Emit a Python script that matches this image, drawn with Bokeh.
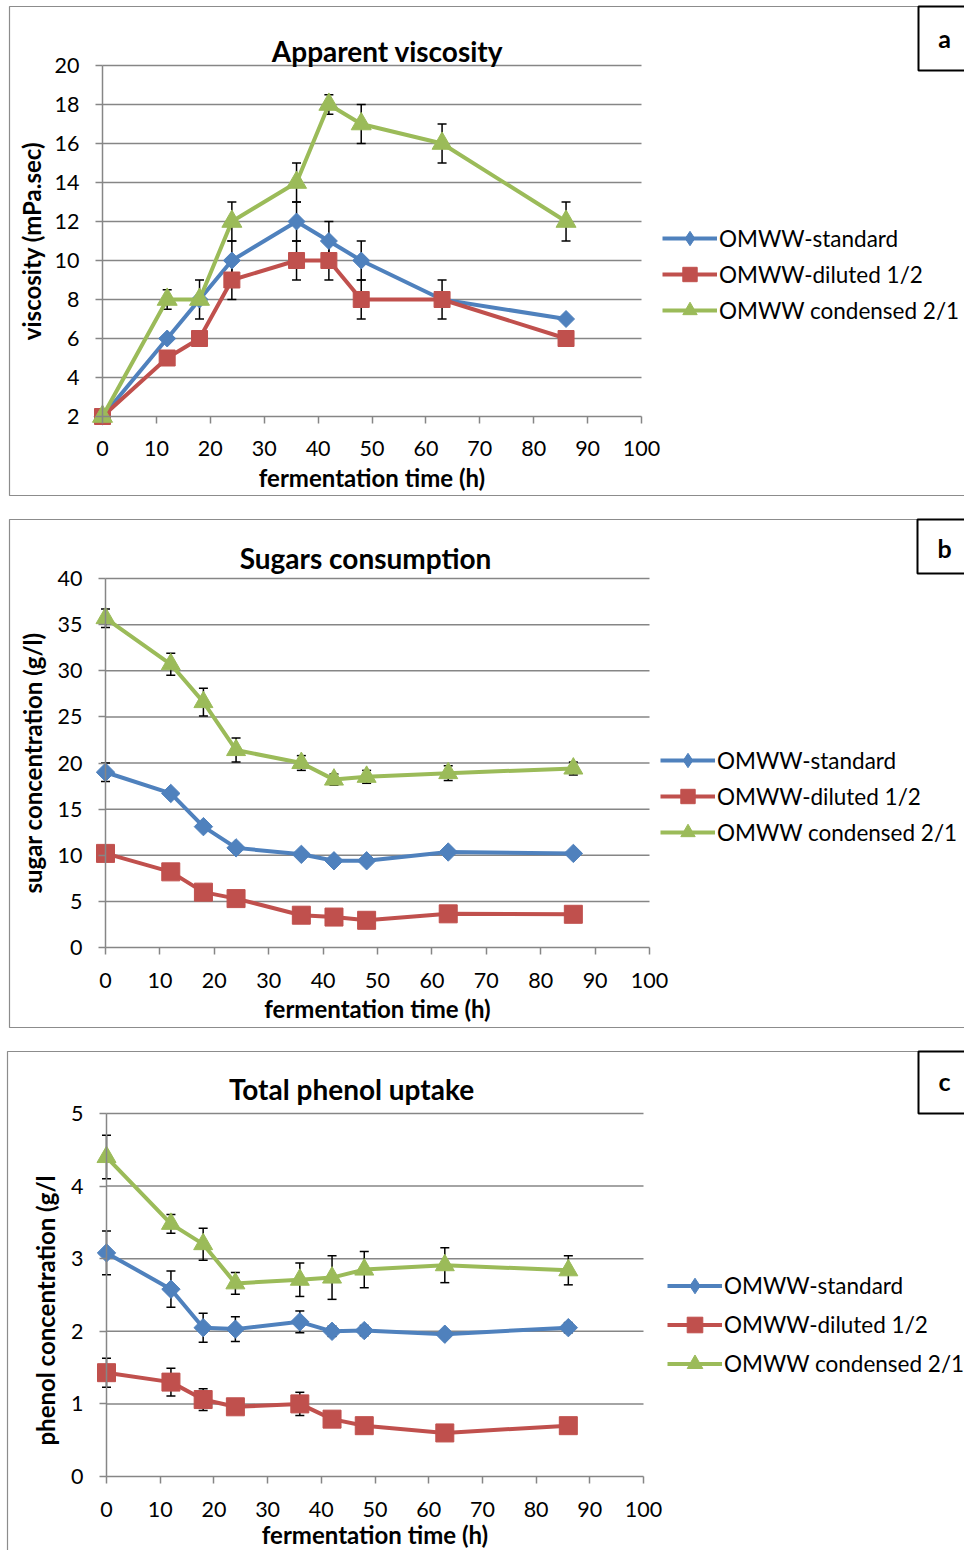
import math
from bokeh.plotting import figure
from bokeh.layouts import column
from bokeh.models import (ColumnDataSource, Whisker, TeeHead, Legend, LegendItem, Label,
                          FixedTicker, Range1d, BoxAnnotation)
from bokeh.embed import file_html
from bokeh.resources import INLINE

# ---------------- data ----------------
time_h = [0, 12, 18, 24, 36, 42, 48, 63, 86]
series_names = ["OMWW-standard", "OMWW-diluted 1/2", "OMWW condensed 2/1"]
x_ticks = [0, 10, 20, 30, 40, 50, 60, 70, 80, 90, 100]

# (a) apparent viscosity (mPa.sec)
visc_ticks = [2, 4, 6, 8, 10, 12, 14, 16, 18, 20]
visc_standard = [2, 6, 8, 10, 12, 11, 10, 8, 7]
visc_diluted = [2, 5, 6, 9, 10, 10, 8, 8, 6]
visc_condensed = [2, 8, 8, 12, 14, 18, 17, 16, 12]
visc_err_standard = [0, 0, 0, 1, 1, 1, 1, 0, 0]
visc_err_diluted = [0, 0, 0, 1, 1, 1, 1, 1, 0]
visc_err_condensed = [0, 0.5, 1, 1, 1, 0.5, 1, 1, 1]

# (b) sugar concentration (g/l)
sugar_ticks = [0, 5, 10, 15, 20, 25, 30, 35, 40]
sugar_standard = [19.0, 16.7, 13.1, 10.8, 10.1, 9.4, 9.4, 10.35, 10.2]
sugar_diluted = [10.2, 8.2, 6.0, 5.3, 3.5, 3.3, 2.95, 3.65, 3.6]
sugar_condensed = [35.7, 30.7, 26.6, 21.4, 20.0, 18.2, 18.5, 18.9, 19.4]
sugar_err_standard = [1.0, 0.3, 0.3, 0.3, 0.3, 0.3, 0.3, 0.3, 0.3]
sugar_err_diluted = [0.3, 0.3, 0.3, 0.3, 0.3, 0.3, 0.3, 0.3, 0.3]
sugar_err_condensed = [1.0, 1.2, 1.5, 1.3, 0.8, 0.6, 0.7, 0.8, 0.7]

# (c) phenol concentration (g/l)
phenol_ticks = [0, 1, 2, 3, 4, 5]
phenol_standard = [3.08, 2.58, 2.05, 2.03, 2.13, 2.0, 2.01, 1.96, 2.05]
phenol_diluted = [1.43, 1.30, 1.06, 0.96, 1.0, 0.79, 0.70, 0.60, 0.70]
phenol_condensed = [4.40, 3.48, 3.20, 2.66, 2.71, 2.74, 2.85, 2.91, 2.84]
phenol_err_standard = [0.3, 0.25, 0.2, 0.17, 0.15, 0.07, 0.07, 0.05, 0.07]
phenol_err_diluted = [0.2, 0.19, 0.15, 0, 0.16, 0, 0, 0, 0]
phenol_err_condensed = [0.3, 0.13, 0.22, 0.15, 0.23, 0.3, 0.25, 0.24, 0.2]

# ---------------- style ----------------
FONT = "Lato"
COLORS = ["#4F81BD", "#C0504D", "#9BBB59"]
MARKERS = ["square", "square", "triangle"]
LEGEND_MARKERS = ["diamond", "square", "triangle"]
ANGLES = [math.pi / 4, 0, 0]
GRID = "#868686"
BORDER = "#8c8c8c"
PAGE_W = 964


def make_panel(c):
    H = c["slot_h"]
    ymin, ymax = c["yticks"][0], c["yticks"][-1]
    sx = 100.0 / (c["ax_right"] - c["ax_left"])
    sy = (ymax - ymin) / float(c["ax_bottom"] - c["ax_top"])

    def dx(px):
        return (px - c["ax_left"]) * sx

    def dy(py):
        return ymin + (c["ax_bottom"] - py) * sy

    # the plot frame fills the whole canvas; everything is placed inside it
    p = figure(width=PAGE_W, height=H, output_backend="svg", toolbar_location=None,
               x_range=Range1d(dx(0), dx(PAGE_W)), y_range=Range1d(dy(H), dy(0)),
               min_border=0, min_border_left=0, min_border_right=0,
               min_border_top=0, min_border_bottom=0)
    p.title.visible = False
    p.outline_line_color = None
    p.background_fill_color = "white"
    p.border_fill_color = "white"
    p.xgrid.visible = False
    p.ygrid.visible = False

    # outer panel border and letter box
    l, t, r, b = c["border"]
    p.add_layout(BoxAnnotation(left=dx(l), right=dx(r), top=dy(t), bottom=dy(b),
                               fill_color=None, fill_alpha=0, line_color=BORDER,
                               line_alpha=1, line_width=1.2, level="underlay"))
    l, t, r, b = c["letter_box"]
    p.add_layout(BoxAnnotation(left=dx(l), right=dx(r), top=dy(t), bottom=dy(b),
                               fill_color="white", fill_alpha=1, line_color="black",
                               line_alpha=1, line_width=2, level="overlay"))
    lx, ly = c["letter_center"]
    p.add_layout(Label(x=lx, y=H - ly, x_units="screen", y_units="screen",
                       text=c["letter"], text_font=FONT, text_font_style="bold",
                       text_color="black", text_font_size="25px",
                       text_align="center", text_baseline="middle", level="overlay"))

    # title
    tx, ty = c["title_center"]
    p.add_layout(Label(x=tx, y=H - ty, x_units="screen", y_units="screen",
                       text=c["title"], text_font=FONT, text_font_style="bold",
                       text_color="black", text_font_size="28px",
                       text_align="center", text_baseline="middle"))

    # horizontal grid lines
    gy = c["yticks"][1:]
    p.segment(x0=[0] * len(gy), x1=[100] * len(gy), y0=gy, y1=gy,
              line_color=GRID, line_width=1.5, level="underlay")

    # axes
    for ax in (p.xaxis[0], p.yaxis[0]):
        ax.axis_line_color = GRID
        ax.axis_line_width = 1.5
        ax.major_tick_line_color = GRID
        ax.major_tick_line_width = 1.5
        ax.major_tick_in = 0
        ax.major_tick_out = 7
        ax.minor_tick_line_color = None
        ax.major_label_text_font = FONT
        ax.major_label_text_font_size = "21.5px"
        ax.major_label_text_color = "black"
        ax.axis_label_text_font = FONT
        ax.axis_label_text_font_style = "bold"
        ax.axis_label_text_font_size = "24px"
        ax.axis_label_text_color = "black"
    xa, ya = p.xaxis[0], p.yaxis[0]
    xa.fixed_location = ymin
    ya.fixed_location = 0
    xa.bounds = (0, 100)
    ya.bounds = (ymin, ymax)
    xa.ticker = FixedTicker(ticks=x_ticks)
    ya.ticker = FixedTicker(ticks=c["yticks"])
    xa.axis_label = "fermentation time (h)"
    xa.major_label_standoff = c["xtick_standoff"]
    ya.major_label_standoff = c["ytick_standoff"]
    xa.axis_label_standoff = c["xlabel_standoff"]
    if c.get("ylabel_center") is None:
        ya.axis_label = c["ylabel"]
        ya.axis_label_standoff = c["ylabel_standoff"]
    else:
        yx, yy = c["ylabel_center"]
        p.add_layout(Label(x=yx, y=H - yy, x_units="screen", y_units="screen",
                           text=c["ylabel"], angle=math.pi / 2, text_font=FONT,
                           text_font_style="bold", text_color="black", text_font_size="24px",
                           text_align="center", text_baseline="middle"))

    # error bars
    for i in range(3):
        ys = c["ys"][i]
        es = c["errs"][i]
        bx = [x for x, e in zip(time_h, es) if e > 0]
        up = [y + e for y, e in zip(ys, es) if e > 0]
        lo = [y - e for y, e in zip(ys, es) if e > 0]
        if bx:
            src = ColumnDataSource(dict(base=bx, upper=up, lower=lo))
            p.add_layout(Whisker(source=src, base="base", upper="upper", lower="lower",
                                 line_color="black", line_width=1.5,
                                 upper_head=TeeHead(size=9, line_color="black", line_width=1.5),
                                 lower_head=TeeHead(size=9, line_color="black", line_width=1.5)))

    # series
    items = []
    for i in range(3):
        ys = c["ys"][i]
        ln = p.line(time_h, ys, line_color=COLORS[i], line_width=4)
        p.scatter(time_h, ys, marker=MARKERS[i], size=c["msizes"][i], angle=ANGLES[i],
                  fill_color=COLORS[i], line_color=COLORS[i])
        # hidden twin used only for the legend symbol
        lg = p.scatter(time_h, ys, marker=LEGEND_MARKERS[i], size=10,
                       fill_color=COLORS[i], line_color=COLORS[i], visible=False)
        items.append(LegendItem(label=series_names[i], renderers=[ln, lg]))

    step = int(c["legend_step"])
    leg_top = c["legend_row0"] - step / 2.0
    vy = H - leg_top - 3 * step
    legend = Legend(items=items, location=(c["legend_x"], vy), orientation="vertical",
                    border_line_color=None, background_fill_alpha=0,
                    padding=0, margin=0, spacing=0, click_policy="none",
                    inactive_fill_alpha=0,
                    glyph_width=55, glyph_height=step, label_height=step,
                    label_standoff=2, label_text_font=FONT, label_text_color="black",
                    label_text_font_size="22.5px", label_text_baseline="middle")
    p.add_layout(legend, "center")
    return p


pa = make_panel(dict(
    slot_h=507, ax_left=102, ax_right=641, ax_top=65, ax_bottom=416,
    yticks=visc_ticks, ys=[visc_standard, visc_diluted, visc_condensed],
    errs=[visc_err_standard, visc_err_diluted, visc_err_condensed],
    title="Apparent viscosity", title_center=(387, 50),
    ylabel="viscosity (mPa.sec)",
    border=(9, 6, 990, 495), letter="a", letter_box=(918, 6, 990, 70), letter_center=(944, 37),
    xtick_standoff=17, ytick_standoff=16, xlabel_standoff=4, ylabel_standoff=6,
    msizes=[12, 16, 20], legend_step=36, legend_row0=238, legend_x=662))

pb = make_panel(dict(
    slot_h=532, ax_left=105, ax_right=649, ax_top=71, ax_bottom=440,
    yticks=sugar_ticks, ys=[sugar_standard, sugar_diluted, sugar_condensed],
    errs=[sugar_err_standard, sugar_err_diluted, sugar_err_condensed],
    title="Sugars consumption", title_center=(365, 50),
    ylabel="sugar concentration (g/l)",
    border=(9, 12, 990, 520), letter="b", letter_box=(917, 12, 990, 66), letter_center=(944, 40),
    xtick_standoff=18, ytick_standoff=16, xlabel_standoff=3, ylabel_standoff=8,
    msizes=[13, 18, 19], legend_step=36, legend_row0=253, legend_x=660))

pc = make_panel(dict(
    slot_h=511, ax_left=106, ax_right=643, ax_top=74, ax_bottom=437,
    yticks=phenol_ticks, ys=[phenol_standard, phenol_diluted, phenol_condensed],
    errs=[phenol_err_standard, phenol_err_diluted, phenol_err_condensed],
    title="Total phenol uptake", title_center=(351, 49),
    ylabel="phenol concentration (g/l", ylabel_center=(45, 271),
    border=(7, 12, 990, 540), letter="c", letter_box=(918, 12, 990, 74), letter_center=(944, 41),
    xtick_standoff=18, ytick_standoff=16, xlabel_standoff=0, ylabel_standoff=11,
    msizes=[13, 18, 19], legend_step=39, legend_row0=246, legend_x=667))

layout = column(pa, pb, pc, spacing=0)
open("out.html", "w").write(file_html(layout, INLINE))
